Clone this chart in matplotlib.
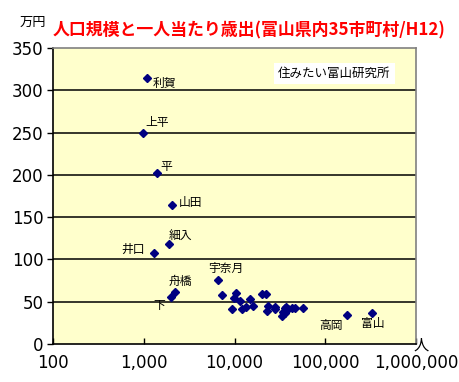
import matplotlib
matplotlib.use("Agg")
import matplotlib.pyplot as plt
from matplotlib.ticker import FixedLocator, FixedFormatter, NullLocator

plt.rcParams['font.family'] = ['Noto Sans CJK JP', 'DejaVu Sans']

# labelled municipalities: population (people), spending per person (10k yen)
names = ['利賀', '上平', '平', '山田', '細入', '井口', '舟橋', '下', '宇奈月', '高岡', '富山']
pop_named = [1077, 988, 1409, 2066, 1914, 1308, 2228, 1995, 6637, 175000, 330600]
spend_named = [314, 249, 202, 164, 118, 108, 61.5, 56, 75.6, 34, 36.6]
# label offsets in pixels (dx, dy) from the marker
label_dx = [18, 14, 9, 18, 11, -21, 5, -12, 7, -16, 0]
label_dy = [-5, 11, 7, 3, 8, 3, 11, -9, 12, -10, -10]

# the unlabelled cluster
pop_other = [7340, 9460, 9950, 10440, 11560, 12250, 13450, 14930, 16110, 20200,
             22400, 23500, 22960, 28100, 28100, 33100, 34500, 36000, 39200, 42700,
             46400, 56400, 37400, 35600]
spend_other = [57.9, 40.8, 54.0, 60.6, 50.6, 41.1, 43.4, 53.0, 45.5, 58.9,
               58.9, 45.3, 39.2, 44.3, 40.8, 33.1, 38.2, 42.2, 41.4, 42.2,
               42.2, 42.2, 44.3, 36.1]

xticks = [100, 1000, 10000, 100000, 1000000]
xticklabels = ['100', '1,000', '10,000', '100,000', '1,000,000']
yticks = [0, 50, 100, 150, 200, 250, 300, 350]

fig = plt.figure(figsize=(4.59, 3.82), dpi=100)
ax = fig.add_axes([53/459, 38/382, 363/459, 296/382])
ax.set_facecolor('#FFFFCC')

ax.set_xscale('log')
ax.set_xlim(100, 1000000)
ax.set_ylim(0, 350)

for y in yticks[1:-1]:
    ax.axhline(y, color='black', lw=1.1, zorder=1)

ax.plot(pop_other + pop_named, spend_other + spend_named, linestyle='none',
        marker='D', markersize=4.2, color='#000080', zorder=3)

for n, x, y, dx, dy in zip(names, pop_named, spend_named, label_dx, label_dy):
    ax.annotate(n, (x, y), xytext=(dx * 0.72, dy * 0.72), textcoords='offset points',
                ha='center', va='center', fontsize=8.5, color='black', zorder=4)

ax.xaxis.set_major_locator(FixedLocator(xticks))
ax.xaxis.set_major_formatter(FixedFormatter(xticklabels))
ax.xaxis.set_minor_locator(NullLocator())
ax.set_yticks(yticks)
ax.tick_params(axis='x', direction='in', length=4, width=1, labelsize=12, pad=7)
ax.tick_params(axis='y', direction='out', length=4, width=1, labelsize=12, pad=3)
for lab in ax.get_xticklabels() + ax.get_yticklabels():
    lab.set_fontfamily(['DejaVu Sans'])

ax.spines['left'].set_color('black')
ax.spines['bottom'].set_color('black')
ax.spines['top'].set_color('#808080')
ax.spines['right'].set_color('#808080')
for s in ax.spines.values():
    s.set_linewidth(1.2)

fig.text(53/459, 1 - 30/382, '人口規模と一人当たり歳出(富山県内35市町村/H12)',
         color='#FF0000', fontsize=12.2, fontweight='bold', ha='left', va='center')
fig.text(33/459, 1 - 22/382, '万円', fontsize=9.5, ha='center', va='center')
fig.text(421/459, 1 - 345/382, '人', fontsize=11, ha='center', va='center')

ax.text(0.775, 0.915, '住みたい富山研究所', transform=ax.transAxes, fontsize=9,
        ha='center', va='center',
        bbox=dict(facecolor='white', edgecolor='none', pad=3))

fig.savefig('out.png', dpi=100)
